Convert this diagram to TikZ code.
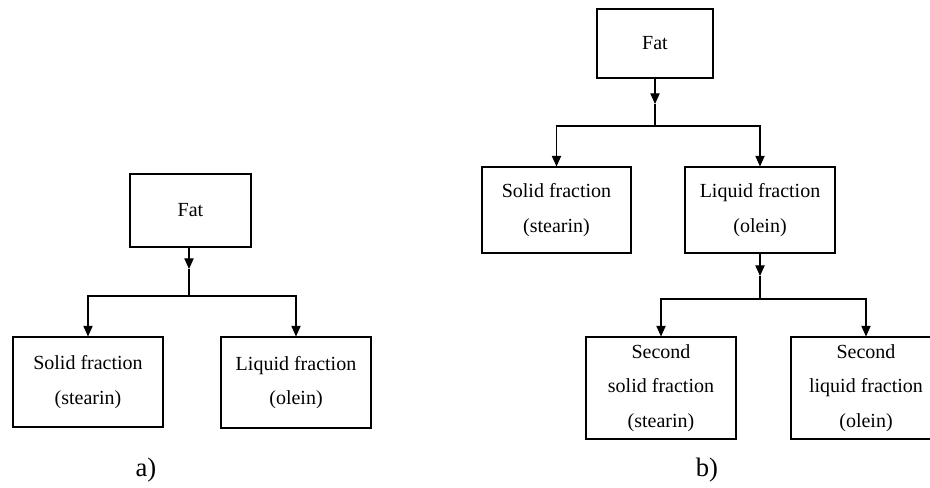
\documentclass[tikz,border=0pt]{standalone}
\usepackage{fontspec}
\setmainfont{Liberation Serif}
\usepackage{tikz}
\usetikzlibrary{arrows.meta}

\tikzset{
  fracbox/.style={draw, line width=0.8pt, align=center, inner sep=0pt,
    font=\fontsize{15}{26}\selectfont},
  flowarr/.style={line width=0.8pt, -{Triangle[length=8pt,width=7pt]}},
  flowline/.style={line width=0.8pt},
  sublabel/.style={font=\fontsize{20}{22}\selectfont}
}

\begin{document}
\begin{tikzpicture}[x=0.75pt,y=0.75pt,yscale=-1,xscale=1]
\useasboundingbox (0,0) rectangle (930,488);
\clip (0,0) rectangle (930,488);

%Shape: Rectangle [a) fat]
\node (fatA) at (190.5,210.5) [fracbox, minimum width=90.75pt, minimum height=54.75pt] {Fat};
%Shape: Rectangle [a) solid]
\node (solidA) at (88,382) [fracbox, minimum width=112.5pt, minimum height=67.5pt] {Solid fraction\\(stearin)};
%Shape: Rectangle [a) liquid]
\node (liquidA) at (296,382.5) [fracbox, minimum width=112.5pt, minimum height=68.25pt] {Liquid fraction\\(olein)};

%Straight Lines [a) split]
\coordinate (tipA) at (189,269);
\coordinate (jA) at (189,296);
\draw[flowarr] (fatA.south -| tipA) -- (tipA);
\draw[flowline] (tipA) -- (jA);
\draw[flowarr] (jA) -| (solidA.north);
\draw[flowarr] (jA) -| (liquidA.north);

% Text Node
\node (labA) at (146,470) [sublabel] {a)};

%Shape: Rectangle [b) fat]
\node (fatB) at (655,43.5) [fracbox, minimum width=87pt, minimum height=51.75pt] {Fat};
%Shape: Rectangle [b) solid]
\node (solidB) at (556.5,210) [fracbox, minimum width=111.75pt, minimum height=64.5pt] {Solid fraction\\(stearin)};
%Shape: Rectangle [b) liquid]
\node (liquidB) at (760,210) [fracbox, minimum width=112.5pt, minimum height=64.5pt] {Liquid fraction\\(olein)};
%Shape: Rectangle [b) second solid]
\node (solidC) at (661,388) [fracbox, minimum width=112.5pt, minimum height=76.5pt] {Second\\solid fraction\\(stearin)};
%Shape: Rectangle [b) second liquid]
\node (liquidC) at (866,388) [fracbox, minimum width=112.5pt, minimum height=76.5pt] {Second\\liquid fraction\\(olein)};

%Straight Lines [b) first split]
\coordinate (tipB) at (655,104);
\coordinate (jB) at (655,126);
\draw[flowarr] (fatB.south) -- (tipB);
\draw[flowline] (tipB) -- (jB);
\draw[flowarr] (jB) -| (solidB.north);
\draw[flowarr] (jB) -| (liquidB.north);

%Straight Lines [b) second split]
\coordinate (tipC) at (760,276);
\coordinate (jC) at (760,299);
\draw[flowarr] (liquidB.south) -- (tipC);
\draw[flowline] (tipC) -- (jC);
\draw[flowarr] (jC) -| (solidC.north);
\draw[flowarr] (jC) -| (liquidC.north);

% Text Node
\node (labB) at (707,470) [sublabel] {b)};

\end{tikzpicture}
\end{document}
